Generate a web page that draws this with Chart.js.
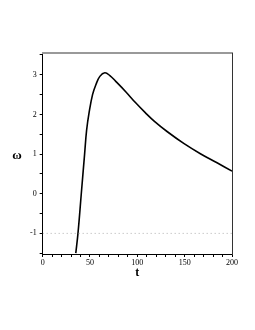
<!DOCTYPE html>
<html>
<head>
<meta charset="utf-8">
<script src="https://cdn.jsdelivr.net/npm/chart.js@4"></script>
<style>
  body { margin: 0; background: #fff; }
  canvas { display: block; }
</style>
</head>
<body>
<canvas id="chartOmega" width="255" height="330"></canvas>
<script>
// Curve values
const tValues = [35, 37.3, 40.8, 44.3, 46.4, 49.2, 52.7, 56.2, 60.4, 65.7, 71, 77, 87.5, 98, 108.6, 118.4, 131.4, 149, 166.6, 184.2, 200];
const omegaValues = [-1.5, -1, 0, 1, 1.6, 2.07, 2.5, 2.75, 2.96, 3.05, 2.98, 2.84, 2.58, 2.30, 2.04, 1.82, 1.57, 1.27, 1.01, 0.78, 0.57];

// Dotted reference line
const refT = [0, 200];
const refOmega = [-1, -1];

const xLabels = [0, 50, 100, 150, 200];
const yLabels = [-1, 0, 1, 2, 3];
const xTitle = 't';
const yTitle = 'ω';

const serif = "'Liberation Serif', 'DejaVu Serif', serif";

const curve = tValues.map((t, i) => ({ x: t, y: omegaValues[i] }));
const ref = refT.map((t, i) => ({ x: t, y: refOmega[i] }));

// y title drawn upright, Chart.js rotates axis titles
const omegaTitle = {
    id: 'omegaTitle',
    afterDraw(chart) {
        const ctx = chart.ctx;
        ctx.save();
        ctx.font = 'bold 13px ' + serif;
        ctx.fillStyle = '#000';
        ctx.textAlign = 'center';
        ctx.textBaseline = 'middle';
        ctx.fillText(yTitle, 17, 156);
        ctx.restore();
    }
};

const ctx = document.getElementById('chartOmega').getContext('2d');

new Chart(ctx, {
    type: 'line',
    data: {
        datasets: [{
            data: ref,
            borderColor: '#b0b0b0',
            borderWidth: 1,
            borderDash: [1, 3],
            pointRadius: 0
        }, {
            data: curve,
            borderColor: '#000',
            borderWidth: 1.6,
            pointRadius: 0,
            tension: 0.4
        }]
    },
    options: {
        responsive: false,
        animation: false,
        layout: { padding: { left: 27, top: 45, right: 15, bottom: 50 } },
        plugins: { legend: { display: false }, tooltip: { enabled: false } },
        scales: {
            x: {
                type: 'linear',
                min: 0,
                max: 200,
                border: { color: '#000', width: 1 },
                grid: { drawOnChartArea: false, tickLength: 3, tickColor: '#000' },
                ticks: {
                    stepSize: 10,
                    autoSkip: false,
                    maxRotation: 0,
                    padding: 1,
                    color: '#000',
                    font: { family: serif, size: 8 },
                    callback: v => xLabels.includes(v) ? String(v) : ''
                },
                title: {
                    display: true,
                    text: xTitle,
                    color: '#000',
                    padding: { top: -3, bottom: 0 },
                    font: { family: serif, size: 12, weight: 'bold' }
                }
            },
            y: {
                min: -1.52,
                max: 3.55,
                border: { color: '#000', width: 1 },
                grid: { drawOnChartArea: false, tickLength: 3, tickColor: '#000' },
                ticks: {
                    stepSize: 0.5,
                    includeBounds: false,
                    autoSkip: false,
                    padding: 3,
                    color: '#000',
                    font: { family: serif, size: 8 },
                    callback: v => yLabels.includes(v) ? String(v) : ''
                }
            },
            xTop: {
                type: 'linear',
                position: 'top',
                min: 0,
                max: 200,
                border: { color: '#999', width: 2 },
                grid: { display: false },
                ticks: { display: false }
            },
            yRight: {
                position: 'right',
                min: -1.52,
                max: 3.55,
                border: { color: '#333', width: 1 },
                grid: { display: false },
                ticks: { display: false }
            }
        }
    },
    plugins: [omegaTitle]
});
</script>
</body>
</html>
